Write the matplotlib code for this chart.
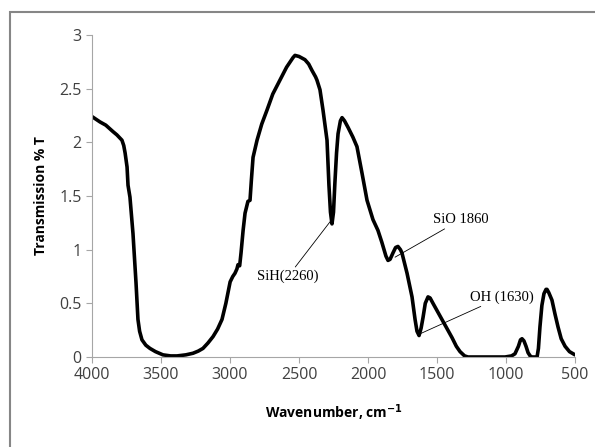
import matplotlib.pyplot as plt
from matplotlib.patches import Rectangle

# FTIR spectrum
wavenumber = [4000, 3942, 3900, 3848, 3820, 3783, 3770, 3760, 3746, 3739, 3725, 3703,
              3681, 3667, 3655, 3638, 3610, 3580, 3540, 3486, 3430, 3384, 3320,
              3268, 3230, 3196, 3160, 3123, 3090, 3058, 3030, 2999, 2980, 2964,
              2950, 2942, 2930, 2920, 2905, 2891, 2870, 2855, 2845, 2833, 2804,
              2770, 2732, 2690, 2638, 2590, 2543, 2529, 2500, 2457, 2430, 2406,
              2380, 2370, 2348, 2326, 2297, 2283, 2272, 2261, 2250, 2240, 2228,
              2217, 2200, 2188, 2170, 2145, 2110, 2080, 2043, 2007, 1964, 1928,
              1900, 1870, 1855, 1840, 1819, 1800, 1783, 1765, 1754, 1717, 1681,
              1659, 1645, 1630, 1615, 1601, 1585, 1565, 1550, 1529, 1464, 1391,
              1360, 1333, 1300, 1275, 1007, 960, 935, 910, 895, 884, 870, 855,
              840, 825, 812, 775, 765, 754, 740, 725, 710, 703, 690, 667, 645,
              623, 600, 572, 540, 500]
transmission = [2.24, 2.19, 2.16, 2.10, 2.07, 2.02, 1.97, 1.90, 1.77, 1.60, 1.49, 1.15,
                0.69, 0.35, 0.24, 0.16, 0.11, 0.08, 0.05, 0.02, 0.01, 0.01, 0.02,
                0.035, 0.055, 0.08, 0.13, 0.19, 0.26, 0.35, 0.50, 0.70, 0.75, 0.78,
                0.82, 0.86, 0.85, 0.97, 1.18, 1.34, 1.45, 1.46, 1.65, 1.86, 2.02,
                2.17, 2.30, 2.45, 2.58, 2.70, 2.79, 2.81, 2.80, 2.77, 2.73, 2.67,
                2.61, 2.58, 2.49, 2.30, 2.02, 1.60, 1.35, 1.24, 1.35, 1.62, 1.90,
                2.08, 2.20, 2.23, 2.20, 2.14, 2.05, 1.96, 1.71, 1.46, 1.28, 1.18,
                1.07, 0.94, 0.90, 0.91, 0.97, 1.02, 1.03, 1.00, 0.97, 0.78, 0.56,
                0.35, 0.24, 0.20, 0.27, 0.37, 0.50, 0.56, 0.55, 0.50, 0.35, 0.18,
                0.10, 0.05, 0.01, 0.0, 0.0, 0.01, 0.03, 0.10, 0.16, 0.17, 0.15, 0.10,
                0.04, 0.01, 0.0, 0.0, 0.08, 0.28, 0.48, 0.59, 0.63, 0.63, 0.60, 0.53,
                0.40, 0.28, 0.17, 0.10, 0.05, 0.02]

x_ticks = [4000, 3500, 3000, 2500, 2000, 1500, 1000, 500]
y_ticks = [0, 0.5, 1, 1.5, 2, 2.5, 3]
y_labels = ["0", "0.5", "1", "1.5", "2", "2.5", "3"]

# (label, text position, line end on the curve)
peaks = [
    ("SiH(2260)", (2580, 0.75), (2275, 1.26)),
    ("SiO 1860", (1529, 1.28), (1804, 0.93)),
    ("OH (1630)", (1261, 0.56), (1616, 0.22)),
]

fig = plt.figure(figsize=(5.95, 4.47), dpi=100)
fig.patches.append(Rectangle((10 / 595, -0.1), 1.2, 1 - 12 / 447 + 0.1,
                             transform=fig.transFigure, fill=False,
                             edgecolor="#868686", linewidth=1.5))
ax = fig.add_axes([92 / 595, 1 - 357 / 447, 483 / 595, 322 / 447])

ax.plot(wavenumber, transmission, color="black", linewidth=2.6,
        solid_joinstyle="round", solid_capstyle="round")

for label, txt, pt in peaks:
    ha = "center" if label.startswith("SiH") else "left"
    ax.annotate(label, xy=pt, xytext=txt, ha=ha, va="center",
                fontsize=10.5, family="Liberation Serif",
                arrowprops=dict(arrowstyle="-", color="black", linewidth=0.6,
                                shrinkA=0, shrinkB=0))

ax.set_xlim(4000, 500)
ax.set_ylim(0, 3)
ax.set_xticks(x_ticks)
ax.set_yticks(y_ticks)
ax.set_yticklabels(y_labels)
for s in ["top", "right"]:
    ax.spines[s].set_visible(False)
for s in ["left", "bottom"]:
    ax.spines[s].set_color("#a6a6a6")
    ax.spines[s].set_linewidth(0.8)
ax.tick_params(colors="#a6a6a6", labelcolor="#404040", length=4, width=0.8,
               labelsize=11.5)
for t in ax.get_xticklabels() + ax.get_yticklabels():
    t.set_family("Open Sans")

ax.set_ylabel("Transmission % T", fontsize=10, fontweight="bold",
              family="Open Sans", labelpad=8)
ax.set_xlabel("Wavenumber, cm$^{\\mathbf{-1}}$", fontsize=10, fontweight="bold",
              family="Open Sans", labelpad=14)

fig.savefig("out.png", dpi=100)
